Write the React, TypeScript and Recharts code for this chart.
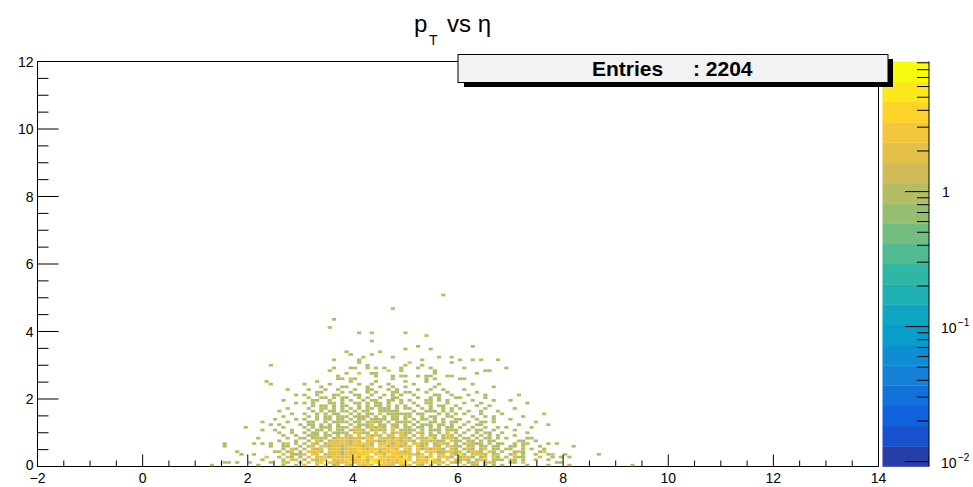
import { ScatterChart, Scatter, XAxis, YAxis, ReferenceArea } from "recharts"

// TH2 binning: 200 x 150 bins on [-2,14] x [0,12]
const X_MIN = -2
const X_MAX = 14
const Y_MIN = 0
const Y_MAX = 12
const BIN = 0.08

const xTicks = [-2, -1.5, -1, -0.5, 0, 0.5, 1, 1.5, 2, 2.5, 3, 3.5, 4, 4.5, 5, 5.5, 6, 6.5, 7, 7.5, 8, 8.5, 9, 9.5, 10, 10.5, 11, 11.5, 12, 12.5, 13, 13.5, 14]
const xLabels = [-2, 0, 2, 4, 6, 8, 10, 12, 14]
const yTicks = [0, 0.5, 1, 1.5, 2, 2.5, 3, 3.5, 4, 4.5, 5, 5.5, 6, 6.5, 7, 7.5, 8, 8.5, 9, 9.5, 10, 10.5, 11, 11.5, 12]
const yLabels = [0, 2, 4, 6, 8, 10, 12]

// colour axis (log z)
const zMax = 9.2
const zDecades = [0.01, 0.1, 1]
const zMinor = [0.02, 0.03, 0.04, 0.05, 0.06, 0.07, 0.08, 0.09, 0.2, 0.3, 0.4, 0.5, 0.6, 0.7, 0.8, 0.9, 2, 3, 4, 5, 6, 7, 8, 9]
const entries = 2204

// core of the distribution, eta from 2.56 (bin 57), pT rows from 2.48 down to 0
// segments: 6 | 10 | 15 | 12 | 10 | 9 columns
const coreEta0 = 2.56
const coreRows = [
  "...... ...1...... .1.....1......1 ....1....... .......... .........",
  "...... 1.....1... ...1..1...1.... .1.....1.... ...1...... .........",
  "...... ....1....1 1....1..1..1..1 ......1..... ........1. .........",
  "..1... .1...1..1. ..1..11...1.1.. ..1..1..1... .1........ .........",
  "...... ...11....1 .1...1.1...11.1 1...1....1.. ....1..... .........",
  "....1. 1..1...11. ..11..1..1.1.1. .1....11..1. ..1...1... ....1....",
  "...... .1..11.1.1 1..1.1..1..11.. ..1..1.1...1 1.....1... .........",
  ".1.... ..11..1..1 .1..1.11..11.1. 1...11.1.1.. ...1....1. ..1......",
  "....1. 1.1...11.1 ..11.1.11.1..1. .1..11...1.. .1...1.... ......1..",
  "...... ..1.11.1.1 1..1.1.11.1.1.1 ..1..1.11..1 ....1..1.. .........",
  "..1... .1..11.1.1 .1.1.11.111.1.1 1..1.1..1.1. 1.....1... ...1.....",
  "1..... ..1.1.11.1 1.1.11..11111.. .1..111.1.1. ..1..1...1 .........",
  "...1.. 1..1.1.11. .1.1.11.2.11111 1.11...1.1.1 .1...1.... 1........",
  ".1.... .1.1.11.11 1.1111.1.1.11.1 1..1.11..11. ...1..1.1. .....1...",
  "....1. 1..1.11.11 .1.11.1111.11.1 .1.11.1.1..1 1...1...1. ..1......",
  "..1... .11..1.111 1.11.1211.1.111 1.1..11.1.11 ..1..11.1. ........1",
  "1....1 .11.1.1.1. .1.1112.11.11.1 .1.111.11.1. .1..11.... ....1....",
  ".1.... 1.1.111.11 1.21.12121.21.1 1.11.1.1.11. 1..1..1..1 .1.....1.",
  "...1.. .1.11.1.11 .1221.1211.2.11 11.1.111.111 ..1.11..1. ...1.....",
  "1..1.. 1.11.1.111 1.2211.2.2.1221 1.21.1.1.2.1 .1..1.11.. 1.....1..",
  ".1..1. .111.11.1. 12.2.2121.12.21 .1.2.11.121. 1..1.1.1.1 ...1.....",
  "..1..1 1.1211.122 2122132.2221312 1.21151.1221 .11.1.11.1 .1....11.",
  "1...1. .1.21.1222 2132.2221132312 21.221211.21 1.11.1.11. ....11..1",
  ".12.1. 1.21.12222 2132321.2231321 .2311.1221.1 .12111.1.1 1..1.11..",
  ".11..1 .12.221221 2332132.3412312 2.213.21.221 1.12.11.11 ..11.1...",
  ".1.21. 1.212.2231 2234213322332.3 2.3121221.21 .121.12.11 .11..1.1.",
  "1.12.1 .2231.2321 322433341324321 2.2.32311221 2.1221.21. 1..121...",
  ".2.111 2.32.12231 324334.34153332 2313.2.22.21 51.2221.12 ..12.1..1",
  "1.21.1 .2.2231322 2341523.4332416 2.2313.2321. 1221.12.21 .1.211...",
  ".1.22. 1.2133.232 432341543323243 3.232831.3.2 121.122.11 1.21.1..1",
  ".21..1 .2.23.3212 243332745322233 .3323.232.21 2.112.121. ..11.2...",
  ".1..1. 2..2.2.12. 21.3232.2322.21 2.21.2.1.2.. .2.11.1.1. 1.....1..",
]

// [eta, pT, count] outside the core block
const lowEtaCells = [
  [2.36, 2.54, 1], [2.44, 2.41, 1], [2.51, 1.39, 1], [2.28, 1.32, 1], [2.43, 1.2, 1],
  [1.97, 1.14, 1], [2.28, 1.08, 1], [2.53, 1.08, 1], [2.2, 0.84, 1], [2.13, 0.65, 1],
  [2.28, 0.65, 1], [2.43, 0.71, 1], [2.43, 0.59, 1], [1.54, 0.71, 1], [1.54, 0.59, 1],
  [1.78, 0.47, 1], [1.89, 0.34, 1], [2.13, 0.34, 1], [1.58, 0.1, 1], [1.66, 0.1, 1],
  [1.78, 0.1, 1], [1.32, 0.04, 1], [2.2, 0.04, 1], [2.0, 0.1, 1], [2.36, 0.29, 2],
  [2.28, 0.2, 1], [2.44, 0.12, 1], [2.5, 0.45, 1],
]
const highEtaCells = [
  [7.61, 1.56, 1], [7.7, 1.26, 1], [7.7, 0.65, 1], [7.87, 0.65, 1], [8.18, 0.59, 1],
  [7.53, 0.59, 1], [7.61, 0.55, 1], [7.53, 0.4, 1], [7.61, 0.42, 2], [7.78, 0.34, 2],
  [7.78, 0.26, 1], [7.7, 0.38, 1], [8.03, 0.37, 1], [8.1, 0.3, 1], [7.94, 0.26, 1],
  [7.53, 0.24, 2], [7.7, 0.2, 1], [7.7, 0.07, 1], [7.91, 0.1, 1], [7.99, 0.1, 1],
  [8.1, 0.02, 1], [8.67, 0.37, 1], [9.31, 0.07, 1],
]
const highPtCells = [
  [5.71, 5.06, 1], [4.75, 4.71, 1], [3.63, 4.35, 1], [3.55, 4.1, 1], [4.09, 3.92, 1],
  [4.36, 3.98, 1], [4.98, 3.98, 1], [5.39, 3.86, 1], [4.36, 3.74, 1], [4.98, 3.48, 1],
  [5.22, 3.55, 1], [5.48, 3.49, 1], [3.87, 3.37, 1], [3.94, 3.31, 1], [4.19, 3.25, 1],
  [4.36, 3.31, 1], [4.51, 3.37, 1], [4.75, 3.25, 1], [5.3, 3.19, 1], [5.64, 3.25, 1],
  [5.87, 3.25, 1], [2.43, 3.01, 1], [3.63, 3.19, 1], [4.09, 3.19, 1], [4.09, 3.07, 1],
  [3.63, 2.89, 1], [3.55, 2.83, 1], [3.98, 2.89, 1], [4.06, 2.89, 1], [4.28, 2.91, 1],
  [4.28, 2.99, 1], [4.44, 2.89, 1], [4.59, 2.95, 1], [4.9, 2.95, 1], [4.98, 3.01, 1],
  [5.06, 3.07, 2], [5.3, 3.01, 1], [5.44, 2.95, 1], [5.52, 2.95, 1], [5.22, 2.89, 1],
  [5.55, 2.77, 1], [5.55, 2.85, 1], [5.79, 2.71, 1], [3.87, 2.77, 1], [4.09, 2.77, 2],
  [4.33, 2.77, 1], [4.41, 2.77, 1], [4.67, 2.83, 2], [4.9, 2.83, 1], [3.71, 2.71, 1],
  [3.74, 2.59, 1], [3.82, 2.59, 1], [3.94, 2.59, 2], [4.02, 2.59, 1], [4.75, 2.71, 1],
  [4.75, 2.59, 1], [4.95, 2.71, 1], [5.03, 2.71, 1], [5.22, 2.66, 1], [5.39, 2.71, 1],
  [5.47, 2.71, 1], [5.39, 2.59, 1], [5.55, 2.59, 1], [4.44, 2.66, 1], [6.26, 3.55, 1],
  [6.02, 3.13, 1], [6.26, 3.19, 1], [6.41, 3.19, 1], [6.75, 3.19, 1], [5.87, 3.07, 1],
  [6.1, 2.89, 1], [6.9, 2.95, 1], [6.33, 2.77, 1], [6.55, 2.83, 1], [6.63, 2.83, 1],
  [5.87, 2.66, 1], [6.06, 2.6, 1], [6.14, 2.6, 1],
]

// frame geometry
const W = 973
const H = 487
const PLOT_L = 37.5
const PLOT_R = 878.5
const PLOT_T = 61.5
const PLOT_B = 466.5
const BIN_W = ((PLOT_R - PLOT_L) / (X_MAX - X_MIN)) * BIN
const BIN_H = ((PLOT_B - PLOT_T) / (Y_MAX - Y_MIN)) * BIN

const FONT = '"Liberation Sans", Arial, Helvetica, sans-serif'

// kBird palette
const birdStops = [0, 0.125, 0.25, 0.375, 0.5, 0.625, 0.75, 0.875, 1]
const birdR = [0.2082, 0.0592, 0.078, 0.0232, 0.1802, 0.5301, 0.8186, 0.9956, 0.9764]
const birdG = [0.1664, 0.3599, 0.5041, 0.6419, 0.7178, 0.7492, 0.7328, 0.7862, 0.9832]
const birdB = [0.5293, 0.8684, 0.8385, 0.7914, 0.6425, 0.4662, 0.3499, 0.1968, 0.0539]

const bird = (f: number) => {
  let k = 0
  while (k < birdStops.length - 2 && f > birdStops[k + 1]) k++
  const t = (f - birdStops[k]) / (birdStops[k + 1] - birdStops[k])
  const c = (a: number[]) => Math.round(255 * (a[k] + t * (a[k + 1] - a[k])))
  return `rgb(${c(birdR)},${c(birdG)},${c(birdB)})`
}

const N_LEVELS = 20
const bandColors = Array.from({ length: N_LEVELS }, (_, i) =>
  bird(Math.floor(((i + 0.99) * 255) / N_LEVELS) / 254)
)
const logMax = Math.log10(zMax)
const logMin = logMax - 3

const cellColor = (z: number) => {
  const lvl = Math.floor(((Math.log10(z) - logMin) / (logMax - logMin)) * N_LEVELS)
  return bandColors[Math.max(0, Math.min(N_LEVELS - 1, lvl))]
}

// collect bins
const binMap = new Map<string, { i: number; j: number; z: number }>()
const putBin = (i: number, j: number, z: number) => {
  const key = `${i}_${j}`
  const prev = binMap.get(key)
  if (!prev || prev.z < z) binMap.set(key, { i, j, z })
}
const coreI0 = Math.round((coreEta0 - X_MIN) / BIN)
coreRows.forEach((row, idx) => {
  const j = coreRows.length - 1 - idx
  row.replace(/ /g, "").split("").forEach((ch, c) => {
    if (ch !== ".") putBin(coreI0 + c, j, Number(ch))
  })
})
;[...lowEtaCells, ...highEtaCells, ...highPtCells].forEach(([eta, pt, z]) => {
  putBin(Math.floor((eta - X_MIN) / BIN), Math.floor(pt / BIN), z)
})
const cells = [...binMap.values()].map((b) => ({
  x: X_MIN + (b.i + 0.5) * BIN,
  y: Y_MIN + (b.j + 0.5) * BIN,
  z: b.z,
}))

const fmt = (v: number) => (v < 0 ? `\u2212${-v}` : `${v}`)

const BinCell = (props: any) => {
  const { cx, cy, payload } = props
  if (cx == null || cy == null) return null
  return (
    <rect x={cx - BIN_W / 2} y={cy - BIN_H / 2} width={BIN_W} height={BIN_H} fill={cellColor(payload.z)} />
  )
}

const XTick = ({ x, y, payload }: any) => {
  const major = xLabels.includes(payload.value)
  return (
    <g>
      <line x1={x} x2={x} y1={y} y2={y - (major ? 12 : 6)} stroke="#000" strokeWidth={1} />
      {major && (
        <text x={x} y={y + 16.5} textAnchor="middle" fontSize={14} fontFamily={FONT} fill="#000">
          {fmt(payload.value)}
        </text>
      )}
    </g>
  )
}

const YTick = ({ x, y, payload }: any) => {
  const major = yLabels.includes(payload.value)
  return (
    <g>
      <line x1={x} x2={x + (major ? 21 : 11)} y1={y} y2={y} stroke="#000" strokeWidth={1} />
      {major && (
        <text x={x - 4} y={y + (payload.value === 0 ? 3 : 5)} textAnchor="end" fontSize={14} fontFamily={FONT} fill="#000">
          {payload.value}
        </text>
      )}
    </g>
  )
}

// colour palette on the right
const PAL_L = 882.5
const PAL_R = 929
const zToY = (v: number) => PLOT_B - ((Math.log10(v) - logMin) / (logMax - logMin)) * (PLOT_B - PLOT_T)

const Palette = () => {
  const bandH = (PLOT_B - PLOT_T) / N_LEVELS
  return (
    <g>
      {bandColors.map((c, i) => (
        <rect key={i} x={PAL_L} y={PLOT_B - (i + 1) * bandH} width={PAL_R - PAL_L} height={bandH + 0.3} fill={c} />
      ))}
      <line x1={PAL_R} x2={PAL_R} y1={PLOT_T} y2={PLOT_B} stroke="#000" />
      {zDecades.map((v) => (
        <line key={v} x1={PAL_R - 24} x2={PAL_R} y1={zToY(v)} y2={zToY(v)} stroke="#000" />
      ))}
      {zMinor.map((v) => (
        <line key={v} x1={PAL_R - 12} x2={PAL_R} y1={zToY(v)} y2={zToY(v)} stroke="#000" />
      ))}
      <text x={942} y={zToY(1) + 5} fontSize={14} fontFamily={FONT}>1</text>
      <text x={941} y={zToY(0.1) + 6} fontSize={14} fontFamily={FONT}>10</text>
      <text x={958} y={zToY(0.1) - 1} fontSize={10} fontFamily={FONT}>{"\u22121"}</text>
      <text x={941} y={zToY(0.01) + 6} fontSize={14} fontFamily={FONT}>10</text>
      <text x={958} y={zToY(0.01) - 1} fontSize={10} fontFamily={FONT}>{"\u22122"}</text>
    </g>
  )
}

const App = () => (
  <div style={{ position: "absolute", left: 0, top: 0, width: W, height: H, background: "#fff" }}>
    <div style={{ position: "absolute", left: 0, top: 0 }}>
      <ScatterChart
        width={W}
        height={H}
        margin={{ top: PLOT_T, right: W - PLOT_R, bottom: 0, left: PLOT_L - 30 }}
      >
        <XAxis
          type="number"
          dataKey="x"
          domain={[X_MIN, X_MAX]}
          ticks={xTicks}
          interval={0}
          height={H - PLOT_B}
          tickSize={0}
          tickMargin={0}
          tickLine={false}
          axisLine={false}
          tick={<XTick />}
          allowDataOverflow
        />
        <YAxis
          type="number"
          dataKey="y"
          domain={[Y_MIN, Y_MAX]}
          ticks={yTicks}
          interval={0}
          width={30}
          tickSize={0}
          tickMargin={0}
          tickLine={false}
          axisLine={false}
          tick={<YTick />}
          allowDataOverflow
        />
        <Scatter data={cells} shape={<BinCell />} isAnimationActive={false} />
        <ReferenceArea x1={X_MIN} x2={X_MAX} y1={Y_MIN} y2={Y_MAX} fill="none" stroke="#000" strokeWidth={1} />
      </ScatterChart>
    </div>
    <svg width={W} height={H} style={{ position: "absolute", left: 0, top: 0, pointerEvents: "none" }}>
      {/* title */}
      <text x={414} y={32} fontSize={24} fontFamily={FONT} fill="#000">p</text>
      <text x={429} y={45} fontSize={14} fontFamily={FONT} fill="#000">T</text>
      <text x={447} y={32} fontSize={24} fontFamily={FONT} fill="#000">vs η</text>

      <Palette />

      {/* stats box */}
      <rect x={464} y={59} width={429} height={28} fill="#000" />
      <rect x={458} y={54.5} width={430} height={28} fill="#f2f2f2" stroke="#000" strokeWidth={1} />
      <text x={592} y={75.5} fontSize={21} fontWeight="bold" fontFamily={FONT} fill="#000">Entries</text>
      <text x={693} y={75.5} fontSize={21} fontWeight="bold" fontFamily={FONT} fill="#000">{`: ${entries}`}</text>
    </svg>
  </div>
)

export default App
